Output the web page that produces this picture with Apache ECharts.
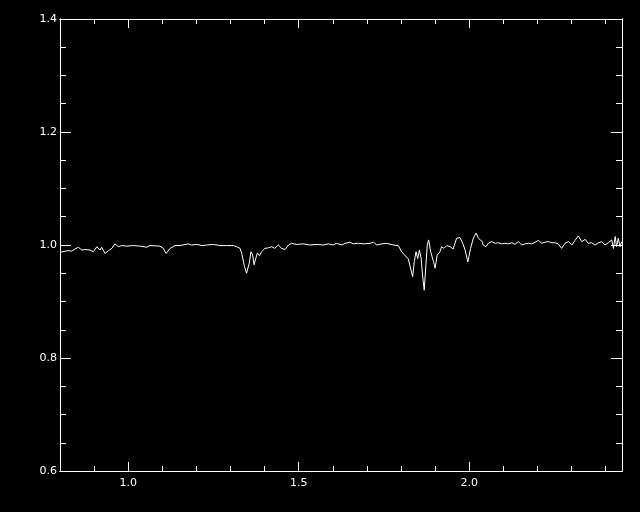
<!DOCTYPE html>
<html>
<head>
<meta charset="utf-8">
<script src="https://cdn.jsdelivr.net/npm/echarts@6/dist/echarts.min.js"></script>
<style>html,body{margin:0;padding:0;background:#000;}#c{width:640px;height:512px;}</style>
</head>
<body>
<div id="c"></div>
<script>
const wavelength = [
0.800,0.815,0.824,0.834,0.844,0.854,0.864,0.873,0.888,0.898,0.908,0.917,0.922,0.932,0.942,0.952,0.961,0.971,0.981,0.996,
1.015,1.035,1.054,1.064,1.093,1.103,1.111,1.123,1.137,1.152,1.176,1.186,1.201,1.216,
1.230,1.250,1.269,1.289,1.308,1.318,1.328,1.333,1.341,1.347,1.355,1.360,1.365,1.369,1.374,1.379,1.385,1.391,1.401,1.411,
1.421,1.430,1.440,1.450,1.460,1.470,1.479,1.494,1.513,1.533,1.553,1.572,1.587,1.601,1.611,1.627,
1.636,1.650,1.660,1.675,1.689,1.709,1.719,1.729,1.743,1.758,1.777,1.792,1.802,1.812,1.821,1.828,1.834,1.839,1.844,1.849,
1.854,1.859,1.863,1.868,1.873,1.877,1.881,1.887,1.895,1.900,1.906,1.914,1.919,1.926,1.934,1.944,1.953,1.963,1.973,1.981,
1.988,1.996,2.004,2.012,2.020,2.027,2.038,
2.041,2.049,2.056,2.066,2.076,2.085,2.095,2.105,2.115,2.125,2.134,2.144,2.154,2.164,2.173,2.183,2.193,2.203,2.213,2.222,
2.232,2.242,2.252,2.261,2.271,2.281,2.291,2.301,2.310,2.320,2.330,2.340,2.349,2.359,2.369,2.379,2.389,2.398,2.408,2.418,
2.423,2.428,2.432,2.437,2.442,2.447
];
const flux = [
0.987,0.989,0.990,0.989,0.993,0.996,0.991,0.992,0.991,0.988,0.997,0.991,0.996,0.985,0.990,0.994,1.002,0.997,0.999,0.998,
0.999,0.998,0.996,0.999,0.998,0.994,0.985,0.994,0.999,0.999,1.002,1.000,1.001,0.999,
1.000,1.001,0.999,0.999,0.999,0.997,0.994,0.985,0.962,0.950,0.968,0.988,0.982,0.965,0.976,0.986,0.981,0.988,0.994,0.995,
0.997,0.994,1.000,0.994,0.992,1.000,1.003,1.001,1.002,1.000,1.001,1.000,1.002,1.000,1.003,1.000,
1.003,1.005,1.002,1.003,1.002,1.003,1.005,1.000,1.002,1.003,1.000,0.999,0.988,0.981,0.976,0.959,0.944,0.971,0.988,0.976,
0.991,0.976,0.947,0.920,0.965,1.000,1.009,0.988,0.971,0.959,0.982,0.988,0.997,0.994,0.999,0.997,0.993,1.012,1.013,1.003,
0.991,0.970,0.994,1.012,1.021,1.012,1.006,
1.000,0.997,1.003,1.006,1.003,1.004,1.002,1.003,1.002,1.004,1.001,1.006,1.000,1.002,1.003,1.002,1.005,1.008,1.003,1.005,
1.006,1.004,1.004,1.002,0.994,1.003,1.006,1.000,1.008,1.016,1.006,1.010,1.003,1.004,1.000,1.004,1.006,1.000,1.004,1.009,
0.994,1.015,0.997,1.012,0.997,1.006
];
const xMajorTicks = [1.0, 1.5, 2.0];
const xMinorTicks = [0.9, 1.1, 1.2, 1.3, 1.4, 1.6, 1.7, 1.8, 1.9, 2.1, 2.2, 2.3, 2.4];
const yMajorTicks = [0.6, 0.8, 1.0, 1.2, 1.4];
const yMinorTicks = [0.65, 0.7, 0.75, 0.85, 0.9, 0.95, 1.05, 1.1, 1.15, 1.25, 1.3, 1.35];

const X_MIN = 0.8, X_MAX = 2.448, Y_MIN = 0.6, Y_MAX = 1.4;
const fg = '#ffffff';
const labelFont = { color: fg, fontSize: 11, fontFamily: 'DejaVu Sans' };

function xAx(pos, ticks, len, labels) {
  return {
    type: 'value', position: pos, min: X_MIN, max: X_MAX,
    axisLine: { show: true, onZero: false, lineStyle: { color: fg, width: 1 } },
    axisTick: { show: true, inside: true, length: len, customValues: ticks, lineStyle: { color: fg, width: 1 } },
    axisLabel: labels ? Object.assign({ show: true, margin: 7, customValues: ticks, formatter: v => v.toFixed(1) }, labelFont) : { show: false },
    splitLine: { show: false }
  };
}
function yAx(pos, ticks, len, labels) {
  return {
    type: 'value', position: pos, min: Y_MIN, max: Y_MAX,
    axisLine: { show: true, onZero: false, lineStyle: { color: fg, width: 1 } },
    axisTick: { show: true, inside: true, length: len, customValues: ticks, lineStyle: { color: fg, width: 1 } },
    axisLabel: labels ? Object.assign({ show: true, margin: 3, customValues: ticks, formatter: v => v.toFixed(1) }, labelFont) : { show: false },
    splitLine: { show: false }
  };
}

const chart = echarts.init(document.getElementById('c'), null, { renderer: 'canvas' });
chart.setOption({
  backgroundColor: '#000000',
  animation: false,
  grid: { left: 60, right: 18, top: 19, bottom: 41, containLabel: false },
  xAxis: [
    xAx('bottom', xMajorTicks, 9, true),
    xAx('bottom', xMinorTicks, 5, false),
    xAx('top', xMajorTicks, 9, false),
    xAx('top', xMinorTicks, 5, false)
  ],
  yAxis: [
    yAx('left', yMajorTicks, 11, true),
    yAx('left', yMinorTicks, 6, false),
    yAx('right', yMajorTicks, 11, false),
    yAx('right', yMinorTicks, 6, false)
  ],
  series: [{
    type: 'line', xAxisIndex: 0, yAxisIndex: 0,
    data: wavelength.map((w, i) => [w, flux[i]]),
    showSymbol: false, symbol: 'none',
    lineStyle: { color: fg, width: 1 },
    silent: true
  }]
});
</script>
</body>
</html>
